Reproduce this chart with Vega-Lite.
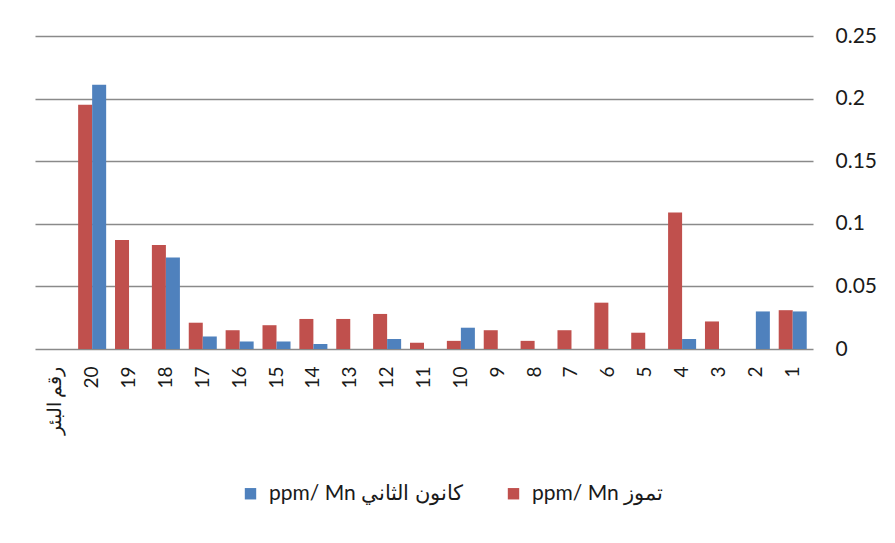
{
  "$schema": "https://vega.github.io/schema/vega-lite/v6.json",
  "width": 778,
  "height": 313,
  "padding": {"left": 35, "top": 25, "right": 5, "bottom": 5},
  "autosize": {"type": "pad"},
  "background": "white",
  "config": {
    "view": {"stroke": null},
    "font": "Lato",
    "axis": {"labelFont": "Lato", "labelColor": "#1a1a1a"},
    "legend": {"labelFont": "Lato", "labelColor": "#1a1a1a"}
  },
  "data": {
    "values": [
      {"well": "20", "season": "ppm/ Mn تموز", "value": 0.195},
      {"well": "20", "season": "ppm/ Mn كانون الثاني", "value": 0.211},
      {"well": "19", "season": "ppm/ Mn تموز", "value": 0.087},
      {"well": "18", "season": "ppm/ Mn تموز", "value": 0.083},
      {"well": "18", "season": "ppm/ Mn كانون الثاني", "value": 0.073},
      {"well": "17", "season": "ppm/ Mn تموز", "value": 0.021},
      {"well": "17", "season": "ppm/ Mn كانون الثاني", "value": 0.01},
      {"well": "16", "season": "ppm/ Mn تموز", "value": 0.015},
      {"well": "16", "season": "ppm/ Mn كانون الثاني", "value": 0.006},
      {"well": "15", "season": "ppm/ Mn تموز", "value": 0.019},
      {"well": "15", "season": "ppm/ Mn كانون الثاني", "value": 0.006},
      {"well": "14", "season": "ppm/ Mn تموز", "value": 0.024},
      {"well": "14", "season": "ppm/ Mn كانون الثاني", "value": 0.004},
      {"well": "13", "season": "ppm/ Mn تموز", "value": 0.024},
      {"well": "12", "season": "ppm/ Mn تموز", "value": 0.028},
      {"well": "12", "season": "ppm/ Mn كانون الثاني", "value": 0.008},
      {"well": "11", "season": "ppm/ Mn تموز", "value": 0.005},
      {"well": "10", "season": "ppm/ Mn تموز", "value": 0.0065},
      {"well": "10", "season": "ppm/ Mn كانون الثاني", "value": 0.017},
      {"well": "9", "season": "ppm/ Mn تموز", "value": 0.015},
      {"well": "8", "season": "ppm/ Mn تموز", "value": 0.0065},
      {"well": "7", "season": "ppm/ Mn تموز", "value": 0.015},
      {"well": "6", "season": "ppm/ Mn تموز", "value": 0.037},
      {"well": "5", "season": "ppm/ Mn تموز", "value": 0.013},
      {"well": "4", "season": "ppm/ Mn تموز", "value": 0.109},
      {"well": "4", "season": "ppm/ Mn كانون الثاني", "value": 0.008},
      {"well": "3", "season": "ppm/ Mn تموز", "value": 0.022},
      {"well": "2", "season": "ppm/ Mn كانون الثاني", "value": 0.03},
      {"well": "1", "season": "ppm/ Mn تموز", "value": 0.031},
      {"well": "1", "season": "ppm/ Mn كانون الثاني", "value": 0.03}
    ]
  },
  "mark": {"type": "bar"},
  "encoding": {
    "x": {
      "field": "well",
      "type": "nominal",
      "scale": {
        "domain": ["رقم البئر", "20", "19", "18", "17", "16", "15", "14", "13", "12", "11", "10", "9", "8", "7", "6", "5", "4", "3", "2", "1"],
        "paddingInner": 0.24,
        "paddingOuter": 0.17
      },
      "axis": {
        "title": null,
        "labelAngle": 270,
        "labelFontSize": 19,
        "labelPadding": 17,
        "domain": false,
        "ticks": false
      }
    },
    "xOffset": {
      "field": "season",
      "type": "nominal",
      "scale": {"domain": ["ppm/ Mn تموز", "ppm/ Mn كانون الثاني"], "paddingInner": 0}
    },
    "y": {
      "field": "value",
      "type": "quantitative",
      "scale": {"domain": [0, 0.25], "nice": false},
      "axis": {
        "orient": "right",
        "title": null,
        "values": [0, 0.05, 0.1, 0.15, 0.2, 0.25],
        "format": "~g",
        "labelFontSize": 21,
        "labelPadding": 22,
        "domain": false,
        "ticks": false,
        "grid": true,
        "gridColor": "#8a8a8a",
        "gridWidth": 1.4
      }
    },
    "color": {
      "field": "season",
      "type": "nominal",
      "scale": {
        "domain": ["ppm/ Mn كانون الثاني", "ppm/ Mn تموز"],
        "range": ["#4F81BD", "#C0504D"]
      },
      "legend": {
        "title": null,
        "orient": "none",
        "legendX": 205,
        "legendY": 447,
        "direction": "horizontal",
        "symbolType": "square",
        "symbolSize": 130,
        "symbolStrokeWidth": 0,
        "labelFontSize": 21,
        "labelLimit": 0,
        "labelOffset": 8,
        "columnPadding": 40
      }
    }
  }
}
